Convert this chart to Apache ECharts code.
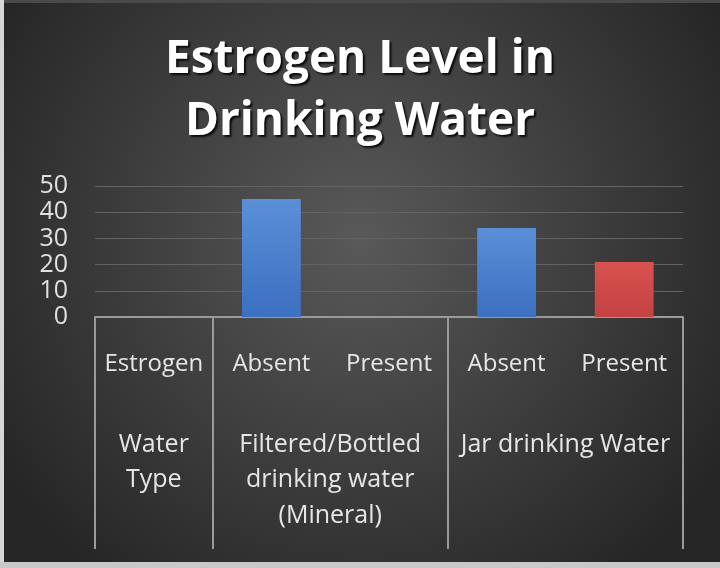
<!DOCTYPE html>
<html>
<head>
<meta charset="utf-8">
<script src="https://cdn.jsdelivr.net/npm/echarts@6/dist/echarts.min.js"></script>
<style>html,body{margin:0;padding:0;background:#2b2b2b;}#c{width:720px;height:568px;}</style>
</head>
<body>
<div id="c"></div>
<script>
var titleText = 'Estrogen Level in\nDrinking Water';
var categories = ['Estrogen', 'Absent', 'Present', 'Absent', 'Present'];
var values = [null, 45, null, 34, 21];
var groupNames = ['Water\nType', 'Filtered/Bottled\ndrinking water\n(Mineral)', 'Jar drinking Water'];
var groupCenters = [0.5, 2, 4];
var groupBounds = [0, 1, 3, 5];
var yTicks = [0, 10, 20, 30, 40, 50];

var FONT = 'Open Sans';
var chart = echarts.init(document.getElementById('c'));
var blueGrad = new echarts.graphic.LinearGradient(0, 0, 0, 1, [{offset: 0, color: '#5a8fd8'}, {offset: 1, color: '#3c70c0'}]);
var redGrad = new echarts.graphic.LinearGradient(0, 0, 0, 1, [{offset: 0, color: '#d8524f'}, {offset: 1, color: '#c44242'}]);

chart.setOption({
  backgroundColor: {
    type: 'radial', x: 0.5, y: 0.42, r: 0.75,
    colorStops: [{offset: 0, color: '#595959'}, {offset: 1, color: '#262626'}]
  },
  title: {
    text: titleText,
    left: 'center',
    top: 24,
    textStyle: {
      fontFamily: FONT, fontSize: 46, fontWeight: 'bold', color: '#ffffff', lineHeight: 62,
      textShadowColor: 'rgba(0,0,0,0.85)', textShadowOffsetX: 2, textShadowOffsetY: 2, textShadowBlur: 2
    }
  },
  grid: {left: 95, right: 37, top: 186, bottom: 251, containLabel: false},
  xAxis: [
    {
      type: 'category',
      data: categories,
      axisLine: {show: false},
      axisTick: {show: false},
      axisLabel: {interval: 0, hideOverlap: false, color: '#e6e6e6', fontFamily: FONT, fontSize: 24, margin: 35}
    },
    {
      type: 'value',
      min: 0, max: 5,
      position: 'bottom',
      axisLine: {show: true, lineStyle: {color: '#9a9a9a', width: 2}},
      axisTick: {show: true, customValues: groupBounds, length: 232, lineStyle: {color: '#9a9a9a', width: 2}},
      axisLabel: {
        show: true, customValues: groupCenters, margin: 110,
        color: '#e6e6e6', fontFamily: FONT, fontSize: 25, lineHeight: 35.5, align: 'center',
        formatter: function (v) {
          var i = groupCenters.indexOf(v);
          return i >= 0 ? groupNames[i] : '';
        }
      },
      splitLine: {show: false}
    }
  ],
  yAxis: {
    type: 'value',
    min: yTicks[0], max: yTicks[yTicks.length - 1], interval: 10,
    axisLine: {show: false},
    axisTick: {show: false},
    axisLabel: {color: '#e0e0e0', fontFamily: FONT, fontSize: 25, margin: 27},
    splitLine: {lineStyle: {color: '#636363', width: 1}}
  },
  series: [{
    type: 'bar',
    xAxisIndex: 0,
    data: values,
    barWidth: '50%',
    itemStyle: {
      color: function (p) { return categories[p.dataIndex] === 'Present' ? redGrad : blueGrad; }
    }
  }],
  graphic: [
    {type: 'rect', left: 0, top: 0, shape: {width: 720, height: 3}, style: {fill: '#4a4a4a'}},
    {type: 'rect', left: 0, top: 0, shape: {width: 4, height: 568}, style: {fill: '#d6d6d6'}},
    {type: 'rect', left: 0, top: 562, shape: {width: 720, height: 6}, style: {fill: '#c8c8c8'}}
  ]
});
</script>
</body>
</html>
